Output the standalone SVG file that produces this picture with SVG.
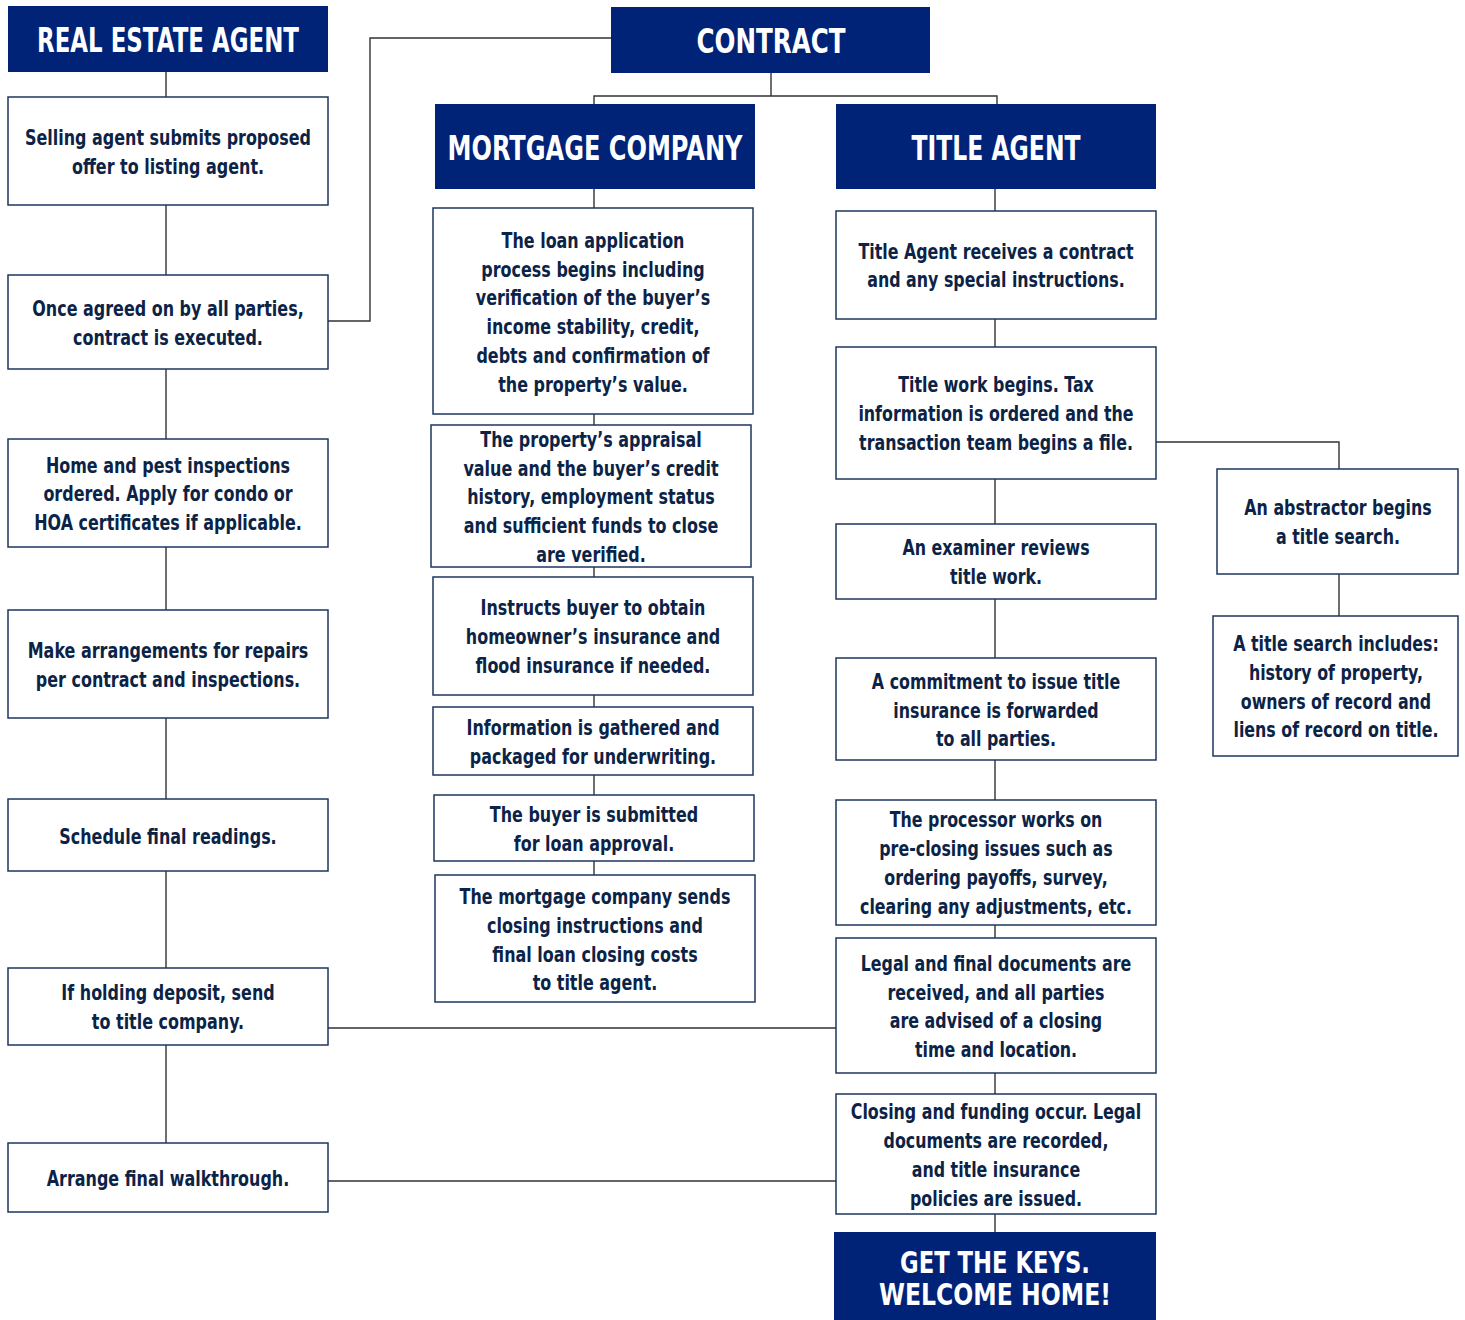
<svg xmlns="http://www.w3.org/2000/svg" width="1465" height="1320" viewBox="0 0 1465 1320">
<style>
.hdr{fill:#002277}
.box{fill:#fff;stroke:#1f355e;stroke-width:1.5}
.ht{fill:#fff;font-family:"DejaVu Sans","Liberation Sans",sans-serif;font-weight:bold;font-size:33px;text-anchor:middle}
.kt{fill:#fff;font-family:"DejaVu Sans","Liberation Sans",sans-serif;font-weight:bold;font-size:30px;text-anchor:middle}
.t{fill:#0b2346;font-family:"DejaVu Sans","Liberation Sans",sans-serif;font-weight:bold;font-size:21px;text-anchor:middle}
.c{fill:none;stroke:#333;stroke-width:1.4}
</style>
<rect width="1465" height="1320" fill="#fff"/>
<g id="connectors" class="c">
<path d="M166 72V97M166 205V275M166 369V439M166 547V610M166 718V799M166 871V968M166 1045V1143"/>
<path d="M611 38H370V321H328"/>
<path d="M771 73V96M594 104V96H997V104"/>
<path d="M594 189V208M594 414V425M594 567V577M594 695V707M594 775V795M594 861V875"/>
<path d="M995 189V211M995 319V347M995 479V524M995 599V658M995 760V800M995 925V938M995 1073V1094M995 1214V1232"/>
<path d="M1156 442H1339V469M1339 574V616"/>
<path d="M328 1028H836M328 1181H836"/>
</g>
<g id="real-estate-agent"><rect class="hdr" x="8" y="6" width="320" height="66"/><text class="ht" transform="translate(168 52) scale(0.695 1)">REAL ESTATE AGENT</text></g>
<g id="contract"><rect class="hdr" x="611" y="7" width="319" height="66"/><text class="ht" transform="translate(771 53) scale(0.745 1)">CONTRACT</text></g>
<g id="mortgage-company"><rect class="hdr" x="435" y="104" width="320" height="85"/><text class="ht" transform="translate(595 160) scale(0.73 1)">MORTGAGE COMPANY</text></g>
<g id="title-agent"><rect class="hdr" x="836" y="104" width="320" height="85"/><text class="ht" transform="translate(996 160) scale(0.712 1)">TITLE AGENT</text></g>

<g id="ra1"><rect class="box" x="8" y="97" width="320" height="108"/><text class="t" transform="translate(168 145) scale(0.76 1)">Selling agent submits proposed</text><text class="t" transform="translate(168 174) scale(0.76 1)">offer to listing agent.</text></g>
<g id="ra2"><rect class="box" x="8" y="275" width="320" height="94"/><text class="t" transform="translate(168 316) scale(0.76 1)">Once agreed on by all parties,</text><text class="t" transform="translate(168 345) scale(0.76 1)">contract is executed.</text></g>
<g id="ra3"><rect class="box" x="8" y="439" width="320" height="108"/><text class="t" transform="translate(168 473) scale(0.76 1)">Home and pest inspections</text><text class="t" transform="translate(168 501) scale(0.76 1)">ordered. Apply for condo or</text><text class="t" transform="translate(168 530) scale(0.76 1)">HOA certificates if applicable.</text></g>
<g id="ra4"><rect class="box" x="8" y="610" width="320" height="108"/><text class="t" transform="translate(168 658) scale(0.76 1)">Make arrangements for repairs</text><text class="t" transform="translate(168 687) scale(0.76 1)">per contract and inspections.</text></g>
<g id="ra5"><rect class="box" x="8" y="799" width="320" height="72"/><text class="t" transform="translate(168 844) scale(0.76 1)">Schedule final readings.</text></g>
<g id="ra6"><rect class="box" x="8" y="968" width="320" height="77"/><text class="t" transform="translate(168 1000) scale(0.76 1)">If holding deposit, send</text><text class="t" transform="translate(168 1029) scale(0.76 1)">to title company.</text></g>
<g id="ra7"><rect class="box" x="8" y="1143" width="320" height="69"/><text class="t" transform="translate(168 1186) scale(0.76 1)">Arrange final walkthrough.</text></g>

<g id="mc1"><rect class="box" x="433" y="208" width="320" height="206"/><text class="t" transform="translate(593 248) scale(0.76 1)">The loan application</text><text class="t" transform="translate(593 277) scale(0.76 1)">process begins including</text><text class="t" transform="translate(593 305) scale(0.76 1)">verification of the buyer’s</text><text class="t" transform="translate(593 334) scale(0.76 1)">income stability, credit,</text><text class="t" transform="translate(593 363) scale(0.76 1)">debts and confirmation of</text><text class="t" transform="translate(593 392) scale(0.76 1)">the property’s value.</text></g>
<g id="mc2"><rect class="box" x="431" y="425" width="320" height="142"/><text class="t" transform="translate(591 447) scale(0.76 1)">The property’s appraisal</text><text class="t" transform="translate(591 476) scale(0.76 1)">value and the buyer’s credit</text><text class="t" transform="translate(591 504) scale(0.76 1)">history, employment status</text><text class="t" transform="translate(591 533) scale(0.76 1)">and sufficient funds to close</text><text class="t" transform="translate(591 562) scale(0.76 1)">are verified.</text></g>
<g id="mc3"><rect class="box" x="433" y="577" width="320" height="118"/><text class="t" transform="translate(593 615) scale(0.76 1)">Instructs buyer to obtain</text><text class="t" transform="translate(593 644) scale(0.76 1)">homeowner’s insurance and</text><text class="t" transform="translate(593 673) scale(0.76 1)">flood insurance if needed.</text></g>
<g id="mc4"><rect class="box" x="433" y="707" width="320" height="68"/><text class="t" transform="translate(593 735) scale(0.76 1)">Information is gathered and</text><text class="t" transform="translate(593 764) scale(0.76 1)">packaged for underwriting.</text></g>
<g id="mc5"><rect class="box" x="434" y="795" width="320" height="66"/><text class="t" transform="translate(594 822) scale(0.76 1)">The buyer is submitted</text><text class="t" transform="translate(594 851) scale(0.76 1)">for loan approval.</text></g>
<g id="mc6"><rect class="box" x="435" y="875" width="320" height="127"/><text class="t" transform="translate(595 904) scale(0.76 1)">The mortgage company sends</text><text class="t" transform="translate(595 933) scale(0.76 1)">closing instructions and</text><text class="t" transform="translate(595 962) scale(0.76 1)">final loan closing costs</text><text class="t" transform="translate(595 990) scale(0.76 1)">to title agent.</text></g>

<g id="ta1"><rect class="box" x="836" y="211" width="320" height="108"/><text class="t" transform="translate(996 259) scale(0.755 1)">Title Agent receives a contract</text><text class="t" transform="translate(996 287) scale(0.755 1)">and any special instructions.</text></g>
<g id="ta2"><rect class="box" x="836" y="347" width="320" height="132"/><text class="t" transform="translate(996 392) scale(0.755 1)">Title work begins. Tax</text><text class="t" transform="translate(996 421) scale(0.755 1)">information is ordered and the</text><text class="t" transform="translate(996 450) scale(0.755 1)">transaction team begins a file.</text></g>
<g id="ta3"><rect class="box" x="836" y="524" width="320" height="75"/><text class="t" transform="translate(996 555) scale(0.755 1)">An examiner reviews</text><text class="t" transform="translate(996 584) scale(0.755 1)">title work.</text></g>
<g id="ta4"><rect class="box" x="836" y="658" width="320" height="102"/><text class="t" transform="translate(996 689) scale(0.755 1)">A commitment to issue title</text><text class="t" transform="translate(996 718) scale(0.755 1)">insurance is forwarded</text><text class="t" transform="translate(996 746) scale(0.755 1)">to all parties.</text></g>
<g id="ta5"><rect class="box" x="836" y="800" width="320" height="125"/><text class="t" transform="translate(996 827) scale(0.755 1)">The processor works on</text><text class="t" transform="translate(996 856) scale(0.755 1)">pre-closing issues such as</text><text class="t" transform="translate(996 885) scale(0.755 1)">ordering payoffs, survey,</text><text class="t" transform="translate(996 914) scale(0.755 1)">clearing any adjustments, etc.</text></g>
<g id="ta6"><rect class="box" x="836" y="938" width="320" height="135"/><text class="t" transform="translate(996 971) scale(0.755 1)">Legal and final documents are</text><text class="t" transform="translate(996 1000) scale(0.755 1)">received, and all parties</text><text class="t" transform="translate(996 1028) scale(0.755 1)">are advised of a closing</text><text class="t" transform="translate(996 1057) scale(0.755 1)">time and location.</text></g>
<g id="ta7"><rect class="box" x="836" y="1094" width="320" height="120"/><text class="t" transform="translate(996 1119) scale(0.755 1)">Closing and funding occur. Legal</text><text class="t" transform="translate(996 1148) scale(0.755 1)">documents are recorded,</text><text class="t" transform="translate(996 1177) scale(0.755 1)">and title insurance</text><text class="t" transform="translate(996 1206) scale(0.755 1)">policies are issued.</text></g>
<g id="keys"><rect class="hdr" x="834" y="1232" width="322" height="88"/><text class="kt" transform="translate(995 1273) scale(0.757 1)">GET THE KEYS.</text><text class="kt" transform="translate(995 1305) scale(0.785 1)">WELCOME HOME!</text></g>

<g id="abstractor"><rect class="box" x="1217" y="469" width="241" height="105"/><text class="t" transform="translate(1338 515) scale(0.755 1)">An abstractor begins</text><text class="t" transform="translate(1338 544) scale(0.755 1)">a title search.</text></g>
<g id="title-search"><rect class="box" x="1213" y="616" width="245" height="140"/><text class="t" transform="translate(1336 651) scale(0.755 1)">A title search includes:</text><text class="t" transform="translate(1336 680) scale(0.755 1)">history of property,</text><text class="t" transform="translate(1336 709) scale(0.755 1)">owners of record and</text><text class="t" transform="translate(1336 737) scale(0.755 1)">liens of record on title.</text></g>
</svg>
